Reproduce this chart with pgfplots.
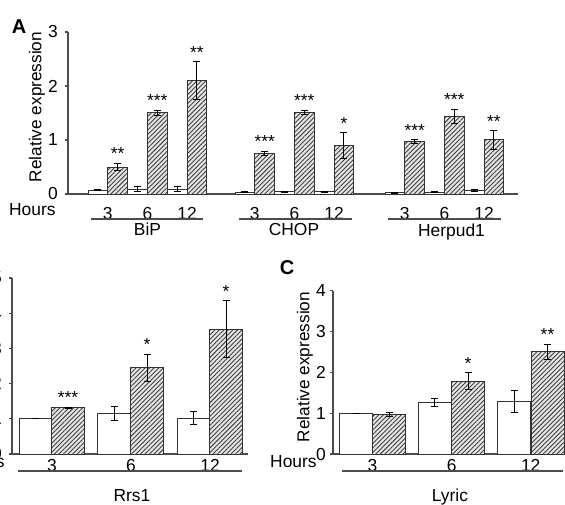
\documentclass[border=0pt]{standalone}
\usepackage{pgfplots}
\pgfplotsset{compat=1.18}
\usepackage{fontspec}
\setmainfont{Liberation Sans}
\usetikzlibrary{patterns.meta}

\newcommand{\fs}{\fontsize{8.7}{10}\selectfont}

\pgfplotsset{
  panel/.style={
    scale only axis, anchor=south west, ybar, bar shift=0pt,
    enlargelimits=false, clip=false, ymin=0,
    axis x line*=bottom, axis y line*=left,
    axis line style={-, black!70, line width=0.8pt},
    tick align=outside, major tick length=1.6pt,
    ytick style={black!70, line width=0.6pt},
    xtick style={draw=none},
    /pgf/number format/assume math mode=true,
    ticklabel style={font=\fs},
    xticklabel style={anchor=north, inner sep=0pt},
  },
  ctrl/.style={fill=white, draw=black!80, line width=0.5pt,
    error bars/.cd, y dir=both, y explicit,
    error bar style={line width=0.5pt, black},
    error mark options={rotate=90, mark size=1.75pt, line width=0.5pt, black}},
  tun/.style={fill=gray!20, draw=black!80, line width=0.5pt,
    postaction={pattern={Lines[angle=45, distance=1.6pt, line width=0.45pt]}, pattern color=black!75},
    error bars/.cd, y dir=both, y explicit,
    error bar style={line width=0.5pt, black},
    error mark options={rotate=90, mark size=1.75pt, line width=0.5pt, black}},
  stars/.style={draw=none, fill=none, nodes near coords, point meta=explicit symbolic,
    every node near coord/.append style={font=\fs, inner sep=1.5pt, black}},
}

\begin{document}
\begin{tikzpicture}[x=0.5pt, y=0.5pt]
\useasboundingbox (0,0) rectangle (565,504);

% ---------- A ----------
\begin{axis}[panel, at={(34pt,155pt)}, width=225pt, height=81pt,
  xmin=68, xmax=518, ymax=3, ytick={0,1,2,3}, bar width=19.8,
  xtick={107.8,147.4,187.0,254.8,294.4,334.0,404.8,444.4,484.0},
  xticklabels={3,6,12,3,6,12,3,6,12},
  xticklabel style={yshift=-5pt}]
\addplot[ctrl] table[x=x, y=y, y error=e] {
x y e
97.9 0.07 0.01
137.5 0.09 0.04
177.1 0.09 0.04
244.9 0.03 0.01
284.5 0.04 0.015
324.1 0.04 0.015
394.9 0.02 0.005
434.5 0.03 0.01
474.1 0.07 0.02
};
\addplot[tun] table[x=x, y=y, y error=e] {
x y e
117.7 0.50 0.07
157.3 1.50 0.05
196.9 2.10 0.35
264.7 0.75 0.04
304.3 1.51 0.04
343.9 0.90 0.24
414.7 0.97 0.03
454.3 1.44 0.13
493.9 1.00 0.17
};
\addplot[stars] table[x=x, y=y, meta=s] {
x y s
117.7 0.57 **
157.3 1.55 ***
196.9 2.45 **
264.7 0.79 ***
304.3 1.55 ***
343.9 1.14 *
414.7 1.00 ***
454.3 1.57 ***
493.9 1.17 **
};
\end{axis}

% ---------- B ----------
\begin{axis}[panel, at={(6pt,25pt)}, width=118pt, height=88pt,
  xmin=12, xmax=248, ymax=5, ytick={0,1,2,3,4,5}, bar width=33,
  xtick={52,131,210}, xticklabels={3,6,12},
  xticklabel style={yshift=-0.7pt}]
\addplot[ctrl] table[x=x, y=y, y error=e] {
x y e
35.5 1.00 0
114 1.155 0.19
193.5 1.02 0.19
};
\addplot[tun] table[x=x, y=y, y error=e] {
x y e
68 1.31 0.02
147 2.45 0.39
226 3.55 0.80
};
\addplot[stars] table[x=x, y=y, meta=s] {
x y s
68 1.33 ***
147 2.84 *
226 4.35 *
};
\end{axis}

% ---------- C ----------
\begin{axis}[panel, at={(166.5pt,25pt)}, width=116.5pt, height=81.65pt,
  xmin=333, xmax=566, ymax=4, ytick={0,1,2,3,4}, bar width=33,
  xtick={372.5,451.7,530.7}, xticklabels={3,6,12},
  xticklabel style={yshift=-0.8pt}, yticklabel style={xshift=1.5pt}]
\addplot[ctrl] table[x=x, y=y, y error=e] {
x y e
356.2 1.00 0
434.7 1.265 0.09
514 1.29 0.27
};
\addplot[tun] table[x=x, y=y, y error=e] {
x y e
389 0.97 0.05
468 1.78 0.21
547.5 2.50 0.19
};
\addplot[stars] table[x=x, y=y, meta=s] {
x y s
468 1.99 *
547.5 2.69 **
};
\end{axis}

% ---------- labels ----------
\node[font=\fontsize{10}{11}\selectfont\bfseries] at (19,477) {A};
\node[font=\fontsize{10}{11}\selectfont\bfseries] at (287,236) {C};
\node[font=\fontsize{8.6}{9}\selectfont, rotate=90] at (37,397) {Relative expression};
\node[font=\fontsize{8.6}{9}\selectfont, rotate=90] at (305,137) {Relative expression};

\node[font=\fs, anchor=base east, inner sep=0pt] at (56,289) {Hours};
\node[font=\fs, anchor=base east, inner sep=0pt] at (5,37) {Hours};
\node[font=\fs, anchor=base east, inner sep=0pt] at (317,37) {Hours};

\draw[black!70, line width=0.9pt] (91,285) -- (203,285) (239,285) -- (352,285) (388,285) -- (501,285);
\draw[black!70, line width=0.9pt] (18,33) -- (242,33) (342,33) -- (563,33);

\node[font=\fs, anchor=base, inner sep=0pt] at (147.5,269) {BiP};
\node[font=\fs, anchor=base, inner sep=0pt] at (294,269) {CHOP};
\node[font=\fs, anchor=base, inner sep=0pt] at (451.5,268) {Herpud1};
\node[font=\fs, anchor=base, inner sep=0pt] at (132,3) {Rrs1};
\node[font=\fs, anchor=base, inner sep=0pt] at (450,3) {Lyric};
\end{tikzpicture}
\end{document}
